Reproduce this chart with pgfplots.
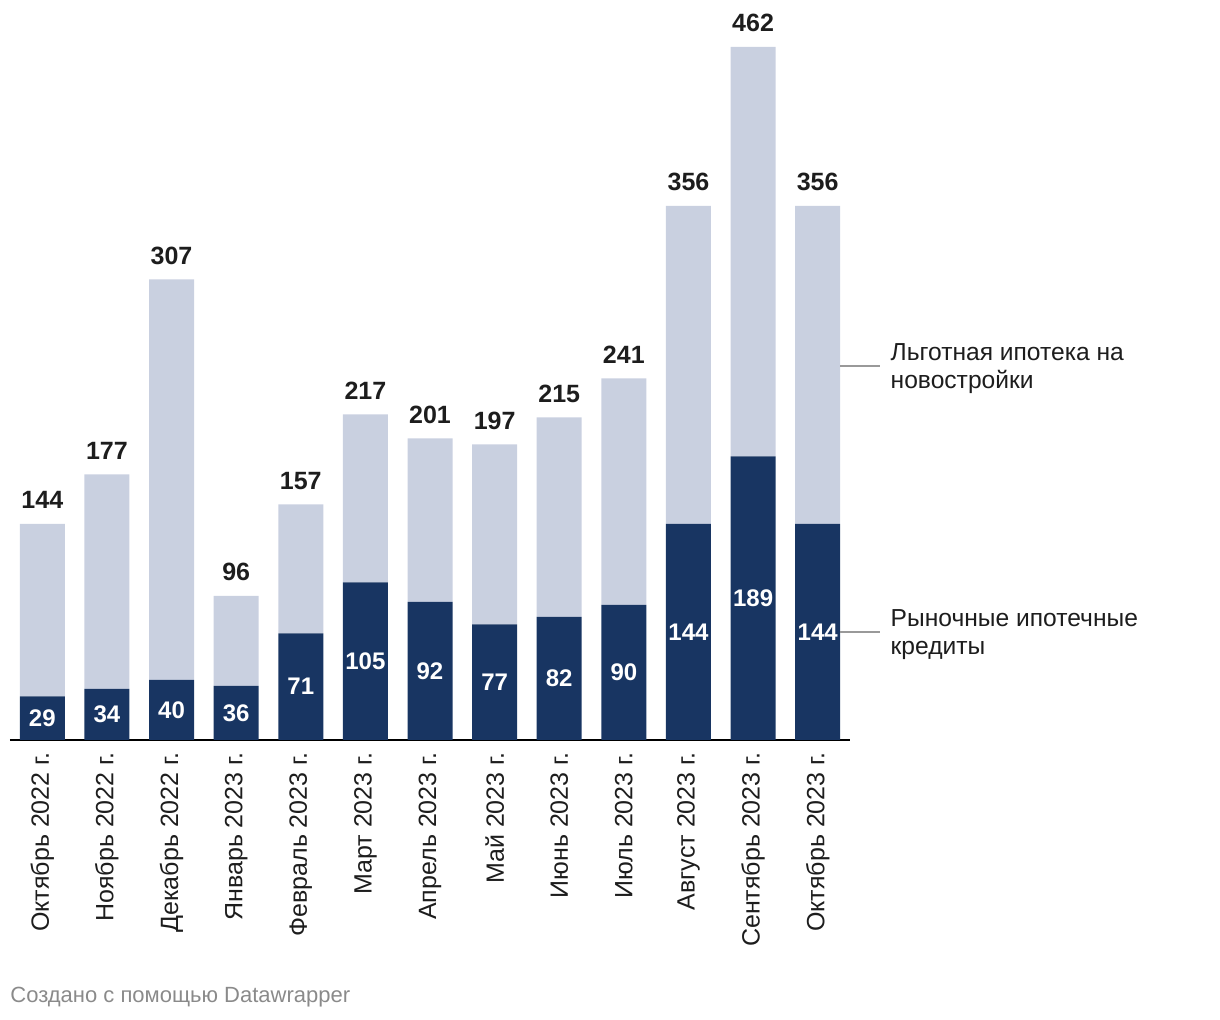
\documentclass[border=0pt]{standalone}
\usepackage{pgfplots}
\pgfplotsset{compat=1.18}
\usepackage{fontspec}
\setmainfont{Liberation Sans}
\definecolor{darkbar}{HTML}{183562}
\definecolor{lightbar}{HTML}{C9D0E0}
\definecolor{txt}{HTML}{1D1D1D}
\definecolor{foot}{HTML}{8A8A8A}
\definecolor{leadline}{HTML}{999999}
\begin{document}
\begin{tikzpicture}
\useasboundingbox (0,0) rectangle (610pt,510pt);
\begin{axis}[
  at={(5pt,140pt)}, anchor=south west,
  scale only axis, width=420pt, height=346.5pt,
  ymin=0, ymax=462, xmin=-0.5, xmax=12.5,
  ybar stacked, bar width=22.5pt,
  axis x line=bottom, axis y line=none,
  axis line style={-, line width=0.9pt, black},
  xtick=data, major tick length=0pt,
  /pgf/number format/assume math mode=true,
  xticklabels={Октябрь 2022 г.,Ноябрь 2022 г.,Декабрь 2022 г.,Январь 2023 г.,Февраль 2023 г.,Март 2023 г.,Апрель 2023 г.,Май 2023 г.,Июнь 2023 г.,Июль 2023 г.,Август 2023 г.,Сентябрь 2023 г.,Октябрь 2023 г.},
  xticklabel style={font=\fontsize{12.5}{14}\selectfont, text=txt, rotate=90, anchor=east, inner sep=0pt, xshift=-6pt},
  clip=false,
]
\addplot[fill=darkbar, draw=none,
  nodes near coords,
  point meta=explicit symbolic,
  every node near coord/.style={font=\bfseries\fontsize{12}{14}\selectfont, text=white, anchor=center},
] coordinates {(0,29)[29] (1,34)[34] (2,40)[40] (3,36)[36] (4,71)[71] (5,105)[105] (6,92)[92] (7,77)[77] (8,82)[82] (9,90)[90] (10,144)[144] (11,189)[189] (12,144)[144]};
\addplot[fill=lightbar, draw=none,
  nodes near coords,
  point meta=explicit symbolic,
  visualization depends on={rawy \as \rawy},
  every node near coord/.style={font=\bfseries\fontsize{12.5}{14}\selectfont, text=txt, anchor=south, yshift=0.375*\rawy pt + 4pt},
] coordinates {(0,115)[144] (1,143)[177] (2,267)[307] (3,60)[96] (4,86)[157] (5,112)[217] (6,109)[201] (7,120)[197] (8,133)[215] (9,151)[241] (10,212)[356] (11,273)[462] (12,212)[356]};
\end{axis}
\draw[leadline, line width=0.7pt] (420pt,327pt) -- (440pt,327pt) node[right, inner sep=0pt, xshift=5pt, yshift=-1.5pt, align=left, text=txt, font=\fontsize{12.3}{14}\selectfont] {Льготная ипотека на\\новостройки};
\draw[leadline, line width=0.7pt] (420pt,194pt) -- (440pt,194pt) node[right, inner sep=0pt, xshift=5pt, yshift=-1.5pt, align=left, text=txt, font=\fontsize{12.3}{14}\selectfont] {Рыночные ипотечные\\кредиты};
\node[anchor=west, inner sep=0pt, text=foot, font=\fontsize{11}{12}\selectfont] at (5pt,11.5pt) {Создано с помощью Datawrapper};
\end{tikzpicture}
\end{document}
